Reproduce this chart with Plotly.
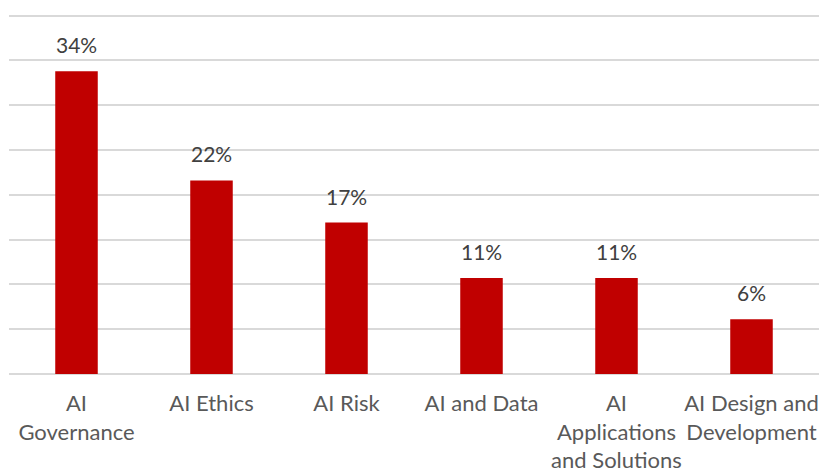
import plotly.graph_objects as go

# survey share per topic (percent)
categories = ["AI Governance", "AI Ethics", "AI Risk", "AI and Data",
              "AI Applications and Solutions", "AI Design and Development"]
shares = [33.8, 21.6, 16.9, 10.7, 10.7, 6.1]
tick_labels = ["AI<br>Governance", "AI Ethics", "AI Risk", "AI and Data",
               "AI<br>Applications<br>and Solutions", "AI Design and<br>Development"]

FONT = "Lato, Calibri, Carlito, sans-serif"

fig = go.Figure(
    go.Bar(
        x=categories,
        y=shares,
        marker=dict(color="#C00000", line=dict(width=0)),
        hoverinfo="x+y",
    )
)

# value labels above each bar
for cat, val in zip(categories, shares):
    fig.add_annotation(
        x=cat, y=val, text=f"{val:.0f}%",
        showarrow=False, yanchor="bottom", yshift=12,
        font=dict(family=FONT, size=21, color="#404040"),
    )

fig.update_layout(
    width=820, height=476,
    margin=dict(l=9, r=1, t=12, b=102),
    plot_bgcolor="white", paper_bgcolor="white",
    bargap=0.685,
    showlegend=False,
    font=dict(family=FONT, size=22, color="#595959"),
)
fig.update_xaxes(
    tickvals=categories, ticktext=tick_labels,
    showgrid=False, showline=False, ticks="",
    ticklabelstandoff=14, automargin=False,
)
fig.update_yaxes(
    range=[0, 40.4], dtick=5, showticklabels=False,
    gridcolor="#D9D9D9", gridwidth=1.5,
    zeroline=True, zerolinecolor="#D9D9D9", zerolinewidth=1.5,
    showline=False, automargin=False,
)

# drop the default page margin so the figure sits at the window's corner
fig.write_html(
    "out.html",
    config={"displayModeBar": False},
    post_script="document.body.style.margin = '0';",
)
